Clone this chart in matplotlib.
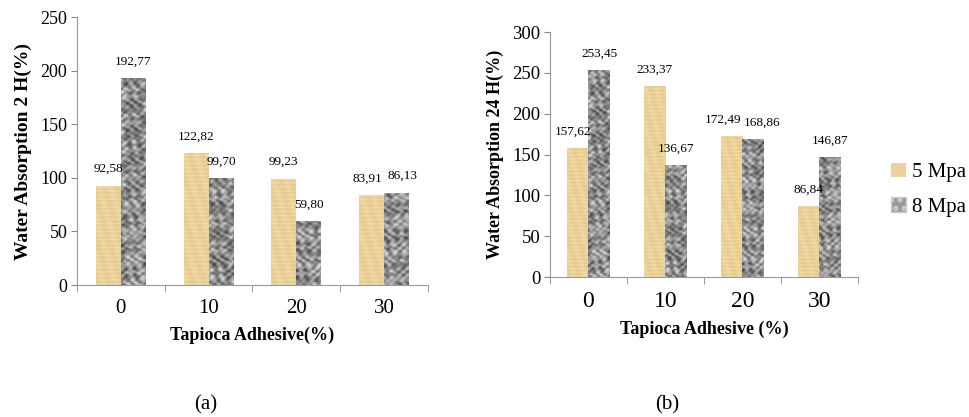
import numpy as np
import matplotlib.pyplot as plt
from matplotlib.patches import Patch
from matplotlib.colors import LinearSegmentedColormap

plt.rcParams['font.family'] = ['Liberation Serif', 'DejaVu Serif']

# data
adhesive = ["0", "10", "20", "30"]
wa2_5mpa = [92.58, 122.82, 99.23, 83.91]
wa2_8mpa = [192.77, 99.70, 59.80, 86.13]
wa24_5mpa = [157.62, 233.37, 172.49, 86.84]
wa24_8mpa = [253.45, 136.67, 168.86, 146.87]
series_names = ["5 Mpa", "8 Mpa"]

# horizontal nudges (points) for the value labels, to keep neighbours apart
nudge2 = ([0, 0, 0, -3], [0, 0, 0, 4])
nudge24 = ([-3, 0, -6, 0], [0, 0, 6, 0])

tan_cmap = LinearSegmentedColormap.from_list("paper", ["#e3c487", "#f3dfae"])
grey_cmap = LinearSegmentedColormap.from_list("marble", ["#3f3f3f", "#8f8f8f", "#e2e2e2"])

# deterministic textures (decoration only)
gx, gy = np.meshgrid(np.linspace(0, 60, 700), np.linspace(0, 60, 700))
paper = 0.5 + 0.25 * np.sin(gy * 7.0) + 0.15 * np.sin(gx * 3.1 + gy * 0.7) + 0.1 * np.sin(gx * 11 + gy * 5)
marble = np.sin(gx * 1.9 + 2.0 * np.sin(gy * 1.1)) * np.sin(gy * 2.1 + 2.0 * np.sin(gx * 1.3)) \
    + 0.45 * np.sin(gx * 3.7 + gy * 2.9 + 1.5 * np.sin(gy * 2.3)) \
    + 0.3 * np.sin(gx * 5.3 - gy * 4.1)


def textured_bars(ax, xs, vals, width, tex, cmap, ylim):
    bars = ax.bar(xs, vals, width, color="none", edgecolor="none")
    for b in bars:
        im = ax.imshow(tex, cmap=cmap, extent=(-0.5, 3.5, 0, ylim), aspect="auto",
                       origin="lower", interpolation="bilinear", zorder=2)
        im.set_clip_path(b)
    return bars


def panel(ax, v5, v8, nudge, ylim, ylabel, xlabel, xfs, yfs, ylab_fs):
    x = np.arange(len(adhesive))
    w = 0.285
    textured_bars(ax, x - w / 2, v5, w, paper, tan_cmap, ylim)
    textured_bars(ax, x + w / 2, v8, w, marble, grey_cmap, ylim)
    for k, (vals, sign) in enumerate([(v5, -1), (v8, 1)]):
        for xi, v, dx in zip(x, vals, nudge[k]):
            ax.annotate(f"{v:.2f}".replace(".", ","), (xi + sign * w / 2, v), xytext=(dx, 12),
                        textcoords="offset points", ha="center", va="center", fontsize=9.5)
    ax.set_xlim(-0.5, 3.5)
    ax.set_ylim(0, ylim)
    ax.set_yticks(np.arange(0, ylim + 1, 50))
    ax.set_xticks(x)
    ax.set_xticklabels(adhesive, fontsize=xfs)
    ax.set_xticks(np.arange(-0.5, 4, 1), minor=True)
    ax.tick_params(axis="x", which="major", length=0, pad=10)
    ax.tick_params(axis="x", which="minor", length=5, color="#888888")
    ax.tick_params(axis="y", labelsize=yfs, length=4, color="#888888", pad=3)
    for s in ["top", "right"]:
        ax.spines[s].set_visible(False)
    for s in ["left", "bottom"]:
        ax.spines[s].set_color("#999999")
    ax.set_ylabel(ylabel, fontsize=ylab_fs, fontweight="bold", labelpad=6)
    ax.set_xlabel(xlabel, fontsize=13, fontweight="bold", labelpad=6)


fig = plt.figure(figsize=(9.69, 4.17), dpi=100)
ax1 = fig.add_axes([0.0795, 0.3165, 0.362, 0.6427])
ax2 = fig.add_axes([0.5676, 0.3357, 0.3178, 0.5875])

panel(ax1, wa2_5mpa, wa2_8mpa, nudge2, 250, "Water Absorption 2 H(%)", "Tapioca Adhesive(%)", 15, 13, 14)
panel(ax2, wa24_5mpa, wa24_8mpa, nudge24, 300, "Water Absorption 24 H(%)", "Tapioca Adhesive (%)", 17, 13.5, 13)

handles = [Patch(facecolor="#ecd29c", edgecolor="none"),
           Patch(facecolor="#9a9a9a", edgecolor="#cccccc", hatch="oo")]
fig.legend(handles, series_names, loc="center left", bbox_to_anchor=(0.92, 0.545),
           frameon=False, fontsize=15, handlelength=0.7, handleheight=0.7,
           handletextpad=0.3, labelspacing=0.7, borderpad=0, borderaxespad=0)

fig.text(0.212, 0.03, "(a)", fontsize=15, ha="center", va="center")
fig.text(0.689, 0.03, "(b)", fontsize=15, ha="center", va="center")

fig.savefig("out.png", dpi=100)
